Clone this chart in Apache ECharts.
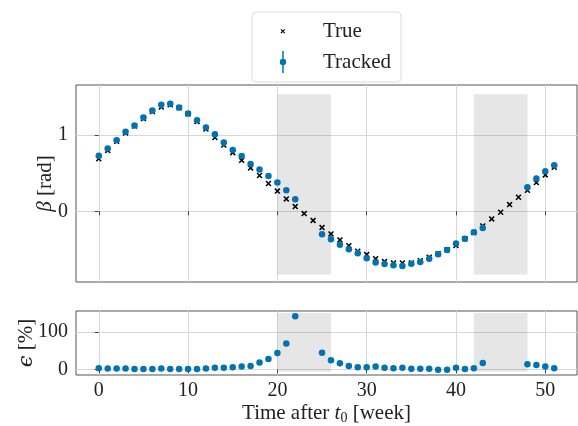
<!DOCTYPE html>
<html>
<head>
<meta charset="utf-8">
<script src="https://cdn.jsdelivr.net/npm/echarts@6/dist/echarts.min.js"></script>
<style>html,body{margin:0;padding:0;background:#fff}#c{width:578px;height:426px}</style>
</head>
<body>
<div id="c"></div>
<script>
const weeks = [0,1,2,3,4,5,6,7,8,9,10,11,12,13,14,15,16,17,18,19,20,21,22,23,24,25,26,27,28,29,30,31,32,33,34,35,36,37,38,39,40,41,42,43,44,45,46,47,48,49,50,51];
const trueBeta = [0.69,0.80,0.92,1.03,1.12,1.22,1.31,1.37,1.40,1.36,1.28,1.18,1.08,0.97,0.87,0.77,0.67,0.57,0.47,0.365,0.265,0.162,0.062,-0.03,-0.12,-0.215,-0.298,-0.377,-0.452,-0.526,-0.57,-0.623,-0.662,-0.68,-0.68,-0.68,-0.65,-0.605,-0.56,-0.505,-0.45,-0.36,-0.28,-0.193,-0.101,-0.013,0.088,0.184,0.276,0.377,0.478,0.579];
const trackedBeta = [0.73,0.825,0.934,1.044,1.127,1.232,1.325,1.40,1.412,1.364,1.285,1.197,1.101,1.011,0.905,0.805,0.728,0.622,0.548,0.462,0.378,0.276,0.158,null,null,-0.303,-0.368,-0.439,-0.5,-0.553,-0.618,-0.675,-0.693,-0.71,-0.72,-0.69,-0.667,-0.625,-0.566,-0.509,-0.425,-0.36,-0.276,-0.219,null,null,null,null,0.316,0.43,0.526,0.605];
const trackedEps = [3.4,2.6,2.6,2.6,0.8,0.8,0.8,2.6,0.8,0.8,0.8,0.8,2.6,4.3,4.3,6,7.7,9.4,18.3,27.7,43.4,68.7,141.8,null,null,44.3,24.5,16.4,9.4,6,6,7.7,4.3,3.4,4.5,1.7,1.7,1.7,-1,-1,4.3,0.8,3.4,17,null,null,null,null,13.5,12,7.7,3.4];
const shadedWeeks = [[20,26],[42,48]];
const betaShade = [-0.83,1.54];
const epsShade = [-6,150];
const xTicks = [0,10,20,30,40,50];
const betaTicks = [0,1];
const epsTicks = [0,100];

const FONT = 'Liberation Serif';
const BLUE = '#0173B2';
const xPath = 'path://M1.1,-1.1L11.1,8.9L8.9,11.1L-1.1,1.1Z M-1.1,8.9L8.9,-1.1L11.1,1.1L1.1,11.1Z';
const legTrue = 'path://M0,0L0.05,0L0,0.05Z M44,22L43.95,22L44,21.95Z M7.3,8.9L11.1,12.7L10.3,13.5L6.5,9.7Z M6.5,12.7L10.3,8.9L11.1,9.7L7.3,13.5Z';
const legTracked = 'path://M0,0L0.05,0L0,0.05Z M44,22L43.95,22L44,21.95Z M8.25,0H9.75V7.8H8.25Z M8.25,14.2H9.75V22H8.25Z M5.8,11A3.2,3.2 0 1 1 12.2,11A3.2,3.2 0 1 1 5.8,11Z';

const pairs = (vals) => weeks.map((w,i)=>[w, vals[i]]).filter(p => p[1] !== null);
const shadeData = (ext) => shadedWeeks.map(([a,b]) => [{xAxis:a, yAxis:ext[0]},{xAxis:b, yAxis:ext[1]}]);

const gridLine = {show:true, lineStyle:{color:'#d6d6d6', width:1}};
const tick = {show:true, length:4, lineStyle:{color:'#444'}};

const chart = echarts.init(document.getElementById('c'), null, {renderer:'canvas'});
chart.setOption({
  animation:false,
  backgroundColor:'#fff',
  textStyle:{fontFamily:FONT},
  legend:{
    orient:'vertical', left:252, top:12,
    padding:[8,10,9,22], itemGap:9, itemWidth:44, itemHeight:22,
    borderColor:'#dcdcdc', borderWidth:1, borderRadius:4, backgroundColor:'#fff',
    textStyle:{fontFamily:FONT, fontSize:21, color:'#222'},
    data:[{name:'True', icon:legTrue, itemStyle:{color:'#000', opacity:1}},
          {name:'Tracked', icon:legTracked, itemStyle:{color:BLUE, opacity:1}}]
  },
  grid:[
    {left:76, top:85, width:501, height:197, show:true, borderColor:'#555', borderWidth:1, backgroundColor:'transparent'},
    {left:76, top:311, width:501, height:65, show:true, borderColor:'#555', borderWidth:1, backgroundColor:'transparent'}
  ],
  xAxis:[
    {gridIndex:0, type:'value', min:-2.55, max:53.55, splitNumber:5,
     axisLine:{show:false}, axisTick:Object.assign({customValues:xTicks}, tick),
     axisLabel:{show:false}, splitLine:gridLine},
    {gridIndex:1, type:'value', min:-2.55, max:53.55, splitNumber:5,
     axisLine:{show:false}, axisTick:Object.assign({customValues:xTicks}, tick),
     axisLabel:{customValues:xTicks, fontSize:20, color:'#222', margin:6, fontFamily:FONT},
     splitLine:gridLine,
     name:'Time after {i|t}{s|0} [week]', nameLocation:'middle', nameGap:27, nameMoveOverlap:false,
     nameTextStyle:{fontSize:21, color:'#222', fontFamily:FONT,
       rich:{i:{fontStyle:'italic', fontSize:21, fontFamily:FONT, color:'#222'},
             s:{fontSize:14, fontFamily:FONT, color:'#222', padding:[9,0,0,0]}}}}
  ],
  yAxis:[
    {gridIndex:0, type:'value', min:-0.93, max:1.66, splitNumber:2,
     axisLine:{show:false}, axisTick:Object.assign({customValues:betaTicks}, tick),
     axisLabel:{customValues:betaTicks, fontSize:20, color:'#222', margin:8, fontFamily:FONT},
     splitLine:gridLine,
     name:'{g|β} [rad]', nameLocation:'middle', nameGap:20, nameMoveOverlap:false,
     nameTextStyle:{fontSize:21, color:'#222', fontFamily:FONT,
       rich:{g:{fontStyle:'italic', fontSize:21, fontFamily:FONT, color:'#222'}}}},
    {gridIndex:1, type:'value', min:-14.9, max:155.6, splitNumber:2,
     axisLine:{show:false}, axisTick:Object.assign({customValues:epsTicks}, tick),
     axisLabel:{customValues:epsTicks, fontSize:20, color:'#222', margin:8, fontFamily:FONT},
     splitLine:gridLine,
     name:'{g|ϵ} [%]', nameLocation:'middle', nameGap:39, nameMoveOverlap:false,
     nameTextStyle:{fontSize:21, color:'#222', fontFamily:FONT,
       rich:{g:{fontStyle:'italic', fontSize:21, fontFamily:'DejaVu Serif', color:'#222'}}}}
  ],
  series:[
    {name:'True', type:'scatter', xAxisIndex:0, yAxisIndex:0, z:2,
     symbol:xPath, symbolSize:6, itemStyle:{color:'#000', opacity:1},
     data:pairs(trueBeta)},
    {name:'Tracked', type:'scatter', xAxisIndex:0, yAxisIndex:0, z:3,
     symbol:'circle', symbolSize:6.5, itemStyle:{color:BLUE, opacity:1},
     data:pairs(trackedBeta),
     markArea:{silent:true, itemStyle:{color:'rgba(128,128,128,0.2)'}, data:shadeData(betaShade)}},
    {name:'eps', type:'scatter', xAxisIndex:1, yAxisIndex:1, z:3,
     symbol:'circle', symbolSize:6.5, itemStyle:{color:BLUE, opacity:1},
     data:pairs(trackedEps),
     markArea:{silent:true, itemStyle:{color:'rgba(128,128,128,0.2)'}, data:shadeData(epsShade)}}
  ]
});
</script>
</body>
</html>
